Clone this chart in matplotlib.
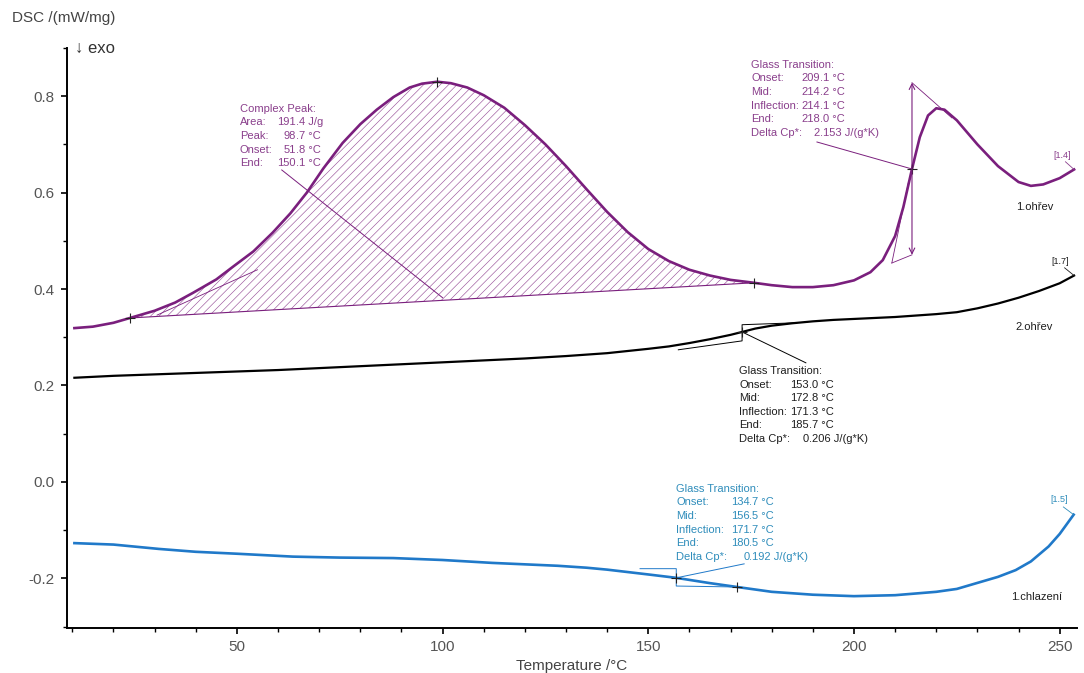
import matplotlib
matplotlib.use("Agg")
import matplotlib.pyplot as plt
import numpy as np
from matplotlib.ticker import MultipleLocator

plt.rcParams['font.family'] = ['Liberation Sans', 'DejaVu Sans']
plt.rcParams['hatch.linewidth'] = 0.45

# 1.ohrev (first heating)
t_heat1 = [10.5, 15, 20, 24, 30, 35, 39.3, 45, 49, 54, 58.7, 63, 67, 71, 75.7, 80, 84, 88,
           92, 95, 98.7, 102, 106, 110, 115, 120, 125, 130, 135, 140, 145, 150, 155, 160,
           165, 170, 175.7, 180, 185, 190, 195, 200, 204, 207, 210, 212, 214.1, 216, 218,
           220, 222, 225, 230, 235, 240, 243, 246, 250, 253.5]
dsc_heat1 = [0.319, 0.322, 0.330, 0.340, 0.355, 0.372, 0.392, 0.420, 0.446, 0.478, 0.517,
             0.557, 0.600, 0.650, 0.703, 0.742, 0.772, 0.798, 0.818, 0.826, 0.830, 0.827,
             0.818, 0.802, 0.776, 0.740, 0.700, 0.655, 0.607, 0.560, 0.518, 0.483, 0.458,
             0.440, 0.428, 0.419, 0.413, 0.408, 0.404, 0.404, 0.408, 0.418, 0.435, 0.460,
             0.510, 0.570, 0.649, 0.715, 0.760, 0.775, 0.772, 0.750, 0.700, 0.655, 0.622,
             0.614, 0.617, 0.630, 0.648]

# 2.ohrev (second heating)
t_heat2 = [10.5, 20, 30, 40, 50, 60, 70, 80, 90, 100, 110, 120, 130, 140, 150, 155, 160,
           165, 170, 172.8, 176, 180, 185, 190, 195, 200, 210, 220, 225, 230, 235, 240,
           245, 250, 253.5]
dsc_heat2 = [0.216, 0.220, 0.223, 0.226, 0.229, 0.232, 0.236, 0.240, 0.244, 0.248, 0.252,
             0.256, 0.261, 0.267, 0.276, 0.281, 0.288, 0.296, 0.305, 0.311, 0.318, 0.324,
             0.329, 0.333, 0.336, 0.338, 0.342, 0.348, 0.352, 0.360, 0.370, 0.382, 0.396,
             0.412, 0.428]

# 1.chlazeni (first cooling)
t_cool1 = [10.5, 20, 31, 40, 50, 63.6, 75, 88, 100, 112, 120, 128, 135, 140, 145, 150,
           156.8, 165, 171.6, 180, 190, 200, 210, 220, 225, 231, 235, 239.3, 243, 247.3,
           250, 253.4]
dsc_cool1 = [-0.127, -0.130, -0.139, -0.145, -0.149, -0.155, -0.157, -0.158, -0.162, -0.168,
             -0.171, -0.174, -0.178, -0.182, -0.187, -0.192, -0.199, -0.210, -0.218, -0.228,
             -0.234, -0.237, -0.235, -0.228, -0.222, -0.207, -0.197, -0.183, -0.165, -0.134,
             -0.108, -0.068]

peak_rows = [("Area:", "191.4 J/g"), ("Peak:", "98.7 °C"), ("Onset:", "51.8 °C"), ("End:", "150.1 °C")]
gt1_rows = [("Onset:", "209.1 °C"), ("Mid:", "214.2 °C"), ("Inflection:", "214.1 °C"),
            ("End:", "218.0 °C"), ("Delta Cp*:", "2.153 J/(g*K)")]
gt2_rows = [("Onset:", "153.0 °C"), ("Mid:", "172.8 °C"), ("Inflection:", "171.3 °C"),
            ("End:", "185.7 °C"), ("Delta Cp*:", "0.206 J/(g*K)")]
gt3_rows = [("Onset:", "134.7 °C"), ("Mid:", "156.5 °C"), ("Inflection:", "171.7 °C"),
            ("End:", "180.5 °C"), ("Delta Cp*:", "0.192 J/(g*K)")]

PURPLE = "#7a1f7d"
PURPLE_TXT = "#8a3f8c"
HATCH = "#9a559c"
BLUE = "#2079c9"
BLUE_TXT = "#2f8dbb"
DARK_TXT = "#1e1e1e"
ROW = 9.8


def block(ax, x, y, title, rows, color, col):
    ax.annotate(title, (x, y), xytext=(0, 0), textcoords='offset points',
                ha='left', va='center', fontsize=8, color=color)
    for i, (lab, val) in enumerate(rows, start=1):
        dy = -i * ROW
        ax.annotate(lab, (x, y), xytext=(0, dy), textcoords='offset points',
                    ha='left', va='center', fontsize=8, color=color)
        ip, rest = val.split('.', 1)
        ax.annotate(ip, (x, y), xytext=(col, dy), textcoords='offset points',
                    ha='right', va='center', fontsize=8, color=color)
        ax.annotate('.' + rest, (x, y), xytext=(col, dy), textcoords='offset points',
                    ha='left', va='center', fontsize=8, color=color)


fig = plt.figure(figsize=(10.84, 6.73), dpi=100)
ax = fig.add_axes([0.0618, 0.0669, 0.9317, 0.8618])

t1 = np.array(t_heat1)
d1 = np.array(dsc_heat1)

# peak area hatch between curve and straight baseline
bx0, by0, bx1, by1 = 24, 0.340, 175.7, 0.413
base = by0 + (by1 - by0) * (t1 - bx0) / (bx1 - bx0)
mask = (t1 >= bx0) & (t1 <= bx1)
ax.fill_between(t1, base, d1, where=mask, facecolor='none', edgecolor=HATCH,
                hatch='////', linewidth=0)
ax.plot([bx0, bx1], [by0, by1], color=PURPLE, lw=0.8)
ax.plot([30.6, 55], [0.346, 0.44], color=PURPLE, lw=0.6)
ax.plot([60.9, 100], [0.647, 0.382], color=PURPLE, lw=0.7)

# glass transition on 1st heating
ax.annotate('', xy=(214.1, 0.828), xytext=(214.1, 0.471),
            arrowprops=dict(arrowstyle='<->', color=PURPLE, lw=0.8, shrinkA=0, shrinkB=0))
ax.plot([214.1, 223.8], [0.828, 0.755], color=PURPLE, lw=0.6)
ax.plot([209.2, 214.1], [0.454, 0.471], color=PURPLE, lw=0.6)
ax.plot([209.2, 213.2], [0.454, 0.62], color=PURPLE, lw=0.6)
ax.plot([191.0, 214.1], [0.705, 0.649], color=PURPLE, lw=0.7)

# glass transition on 2nd heating
ax.plot([157.3, 172.8, 172.8, 185.9], [0.274, 0.2925, 0.326, 0.330], color='k', lw=0.7)
ax.plot([172.8, 188.3], [0.311, 0.247], color='k', lw=0.7)

# glass transition on cooling
ax.plot([148.0, 156.8, 156.8, 171.6], [-0.180, -0.180, -0.216, -0.218], color=BLUE, lw=0.7)
ax.plot([156.8, 173.3], [-0.199, -0.170], color=BLUE, lw=0.7)

ax.plot(t_heat1, dsc_heat1, color=PURPLE, lw=1.9)
ax.plot(t_heat2, dsc_heat2, color='black', lw=1.6)
ax.plot(t_cool1, dsc_cool1, color=BLUE, lw=1.9)

ax.plot([24, 98.7, 175.7, 214.1], [0.340, 0.830, 0.413, 0.649], '+', color='#222222', ms=7, mew=0.8)
ax.plot([172.8], [0.311], '+', color='#222222', ms=7, mew=0.8)
ax.plot([156.8, 171.6], [-0.199, -0.218], '+', color='#222222', ms=7, mew=0.8)

block(ax, 50.7, 0.774, "Complex Peak:", peak_rows, PURPLE_TXT, 40.3)
block(ax, 175.0, 0.865, "Glass Transition:", gt1_rows, PURPLE_TXT, 49.7)
block(ax, 172.1, 0.230, "Glass Transition:", gt2_rows, DARK_TXT, 50.4)
block(ax, 156.8, -0.0145, "Glass Transition:", gt3_rows, BLUE_TXT, 52.6)

# end labels
ax.text(250.5, 0.678, "[1.4]", fontsize=6.5, color=PURPLE_TXT, ha='center', va='center')
ax.plot([251.4, 253.5], [0.664, 0.648], color=PURPLE_TXT, lw=0.6)
ax.text(250.2, 0.458, "[1.7]", fontsize=6.5, color=DARK_TXT, ha='center', va='center')
ax.plot([251.2, 253.5], [0.444, 0.428], color=DARK_TXT, lw=0.6)
ax.text(249.8, -0.037, "[1.5]", fontsize=6.5, color=BLUE_TXT, ha='center', va='center')
ax.plot([250.9, 253.4], [-0.052, -0.068], color=BLUE_TXT, lw=0.6)

ax.text(243.9, 0.571, "1.ohřev", fontsize=8, color=DARK_TXT, ha='center', va='center')
ax.text(243.7, 0.322, "2.ohřev", fontsize=8, color=DARK_TXT, ha='center', va='center')
ax.text(244.4, -0.239, "1.chlazení", fontsize=8, color=DARK_TXT, ha='center', va='center')

ax.set_xlim(8.7, 254.2)
ax.set_ylim(-0.303, 0.900)
ax.xaxis.set_major_locator(MultipleLocator(50))
ax.xaxis.set_minor_locator(MultipleLocator(10))
ax.yaxis.set_major_locator(MultipleLocator(0.2))
ax.yaxis.set_minor_locator(MultipleLocator(0.1))
ax.yaxis.set_major_formatter(matplotlib.ticker.FormatStrFormatter('%.1f'))

for s in ['top', 'right']:
    ax.spines[s].set_visible(False)
for s in ['left', 'bottom']:
    ax.spines[s].set_linewidth(1.4)
ax.tick_params(which='major', direction='out', length=4, width=1.2, labelsize=11,
               labelcolor='#555555', pad=5)
ax.tick_params(which='minor', direction='out', length=3, width=1.0)

ax.set_xlabel("Temperature /°C", fontsize=11, color='#444444', labelpad=3)
fig.text(12 / 1084, 1 - 18 / 673, "DSC /(mW/mg)", fontsize=11, color='#444444',
         ha='left', va='center')
fig.text(75 / 1084, 1 - 48 / 673, "↓ exo", fontsize=12, color='#333333',
         ha='left', va='center')

fig.savefig("out.png", dpi=100)
